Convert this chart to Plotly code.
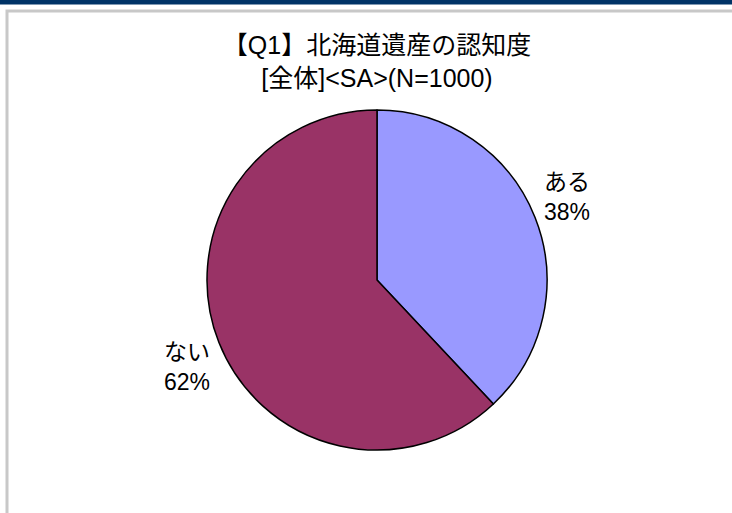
import math
import plotly.graph_objects as go

labels = ["ある", "ない"]
values = [38, 62]
colors = ["#9999FF", "#993366"]
title_lines = ["【Q1】北海道遺産の認知度", "[全体]&lt;SA&gt;(N=1000)"]

W, H = 732, 513
FONT = "Liberation Sans, Arial, Noto Sans CJK JP, sans-serif"

# pie geometry in pixels (domain of the pie)
PX0, PX1, PY0, PY1 = 207, 547, 110, 450
cx, cy = (PX0 + PX1) / 2, (PY0 + PY1) / 2
R = (PX1 - PX0) / 2
LABEL_RX, LABEL_RY = 1.2, 1.36

fig = go.Figure(go.Pie(
    labels=labels,
    values=values,
    marker=dict(colors=colors, line=dict(color="#000000", width=1.5)),
    sort=False,
    direction="clockwise",
    rotation=0,
    textinfo="none",
    hoverinfo="label+percent",
    showlegend=False,
    domain=dict(x=[PX0 / W, PX1 / W], y=[1 - PY1 / H, 1 - PY0 / H]),
))

# data labels positioned at the middle angle of each slice
total = sum(values)
annotations = []
start = 0.0
for lab, v in zip(labels, values):
    mid = (start + v / 2) / total * 2 * math.pi
    start += v
    px = cx + LABEL_RX * R * math.sin(mid)
    py = cy - LABEL_RY * R * math.cos(mid)
    annotations.append(dict(
        x=px / W, y=1 - (py + 2) / H, xref="paper", yref="paper",
        text=f"{lab}<br>{round(v / total * 100)}%",
        showarrow=False, xanchor="center", yanchor="middle", align="center",
        font=dict(family=FONT, size=23, color="#000000"),
    ))

shapes = [
    # top navy band
    dict(type="rect", xref="paper", yref="paper", x0=0, x1=1, y0=1 - 4.5 / H, y1=1,
         fillcolor="#003366", line=dict(width=0), layer="below"),
    # chart frame (gray)
    dict(type="rect", xref="paper", yref="paper", x0=7 / W, x1=1.2, y0=-0.2, y1=1 - 11 / H,
         fillcolor="rgba(0,0,0,0)", line=dict(color="#C8C8C8", width=3), layer="below"),
]

fig.update_layout(
    width=W, height=H,
    margin=dict(l=0, r=0, t=0, b=0),
    paper_bgcolor="#FFFFFF",
    plot_bgcolor="#FFFFFF",
    shapes=shapes,
    annotations=annotations,
    title=dict(
        text="<br>".join(title_lines),
        x=377 / W, xanchor="center",
        y=1 - 54 / H, yanchor="top",
        font=dict(family=FONT, size=25, color="#000000"),
    ),
)

fig.write_html("out.html")
